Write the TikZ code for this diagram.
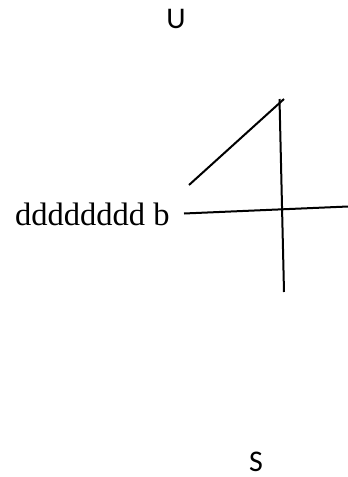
\documentclass[tikz,border=0pt]{standalone}
\usepackage{fontspec}
\setmainfont{Liberation Serif}
\newfontfamily\calibri{Carlito}
\usetikzlibrary{positioning}

\begin{document}
\begin{tikzpicture}[x=1pt,y=-1pt,
  trazo/.style={line width=2pt,black},
  letra/.style={font=\calibri\fontsize{30}{34}\selectfont,inner sep=0pt},
  rotulo/.style={font=\fontsize{32.5}{38}\selectfont,inner sep=0pt,anchor=base west}]
\useasboundingbox (0,0) rectangle (348,477);
\node[letra] (arriba) at (176,18.5) {U};
\node[letra] (abajo) at (256,461.5) {S};
\node[rotulo] (texto) at (15,225) {dddddddd b};
\coordinate (d1) at (189,185);
\coordinate (d2) at (284,99);
\coordinate (v1) at (279.5,99);
\coordinate (v2) at (284,292);
\coordinate (h1) at (184,213.5);
\coordinate (h2) at (348,206.5);
\draw[trazo] (d1) -- (d2);
\draw[trazo] (v1) -- (v2);
\draw[trazo] (h1) -- (h2);
\end{tikzpicture}
\end{document}
